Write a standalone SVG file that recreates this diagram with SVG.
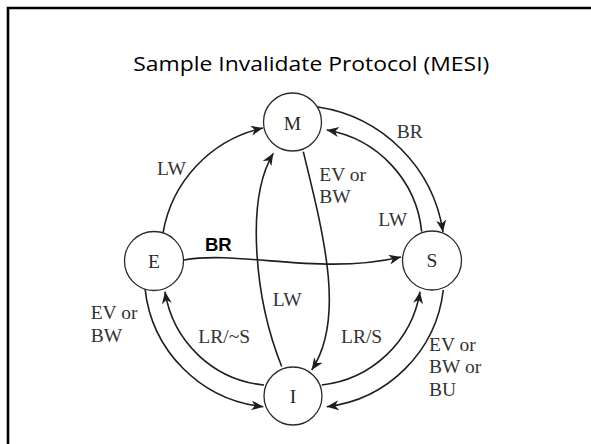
<svg xmlns="http://www.w3.org/2000/svg" width="591" height="444" viewBox="0 0 591 444">
  <style>
    .frame { fill: none; stroke: #000; stroke-width: 2.6; }
    .title { font-family: "Open Sans", "Liberation Sans", sans-serif; font-size: 20.5px; fill: #000; }
    .state circle { fill: #fff; stroke: #2a2a2a; stroke-width: 1.3; }
    .state text { font-family: "Liberation Serif", "Times New Roman", serif; font-size: 19.5px; fill: #2a2a2a; text-anchor: middle; }
    .edge { fill: none; stroke: #1e1e1e; stroke-width: 1.6; marker-end: url(#head); }
    .lbl { font-family: "Liberation Serif", "Times New Roman", serif; font-size: 19.5px; fill: #333; }
    .bold { font-family: "Liberation Sans", Arial, sans-serif; font-size: 18.5px; font-weight: bold; fill: #000; }
  </style>
  <defs>
    <marker id="head" markerUnits="userSpaceOnUse" markerWidth="14" markerHeight="12" refX="12" refY="5" orient="auto">
      <path d="M0,0 L12,5 L0,10 L3.5,5 z" fill="#1e1e1e"/>
    </marker>
  </defs>

  <!-- slide frame -->
  <path class="frame" d="M8,444 V8 H591"/>

  <text class="title" x="133.3" y="70.7" textLength="356" lengthAdjust="spacingAndGlyphs">Sample Invalidate Protocol (MESI)</text>

  <!-- transitions -->
  <g id="connectors">
    <path class="edge" d="M163,233 A130,130 0 0 1 263,128"/>
    <path class="edge" d="M318,107 A149,149 0 0 1 443,232"/>
    <path class="edge" d="M421.7,231.7 A115,115 0 0 0 326.7,130"/>
    <path class="edge" d="M145,288.3 A133,133 0 0 0 263.3,406.7"/>
    <path class="edge" d="M264,385 A111,111 0 0 1 165,291.7"/>
    <path class="edge" d="M321.7,385 A112,112 0 0 0 420,291.7"/>
    <path class="edge" d="M443.3,290 A133,133 0 0 1 326.7,406.7"/>
    <path class="edge" d="M184,260 C240,250 320,276 401,257"/>
    <path class="edge" d="M281.7,366.5 C255,300 245,200 273.3,153.3"/>
    <path class="edge" d="M303.3,151.7 C325,240 345,320 311.7,370"/>
  </g>

  <!-- states -->
  <g id="node-M" class="state">
    <circle cx="292.5" cy="122" r="29"/>
    <text x="292.5" y="129.5">M</text>
  </g>
  <g id="node-E" class="state">
    <circle cx="154" cy="261" r="29.5"/>
    <text x="154" y="267.7">E</text>
  </g>
  <g id="node-S" class="state">
    <circle cx="432" cy="260.5" r="29.5"/>
    <text x="432" y="267.3">S</text>
  </g>
  <g id="node-I" class="state">
    <circle cx="293" cy="396" r="29"/>
    <text x="293" y="403.3">I</text>
  </g>

  <!-- transition labels -->
  <g id="labels">
    <text class="lbl" x="157" y="175">LW</text>
    <text class="lbl" x="396.7" y="138.3">BR</text>
    <text class="lbl" x="319.3" y="180.7">EV or</text>
    <text class="lbl" x="319.3" y="203.3">BW</text>
    <text class="lbl" x="378.3" y="226">LW</text>
    <text class="bold" x="205" y="251">BR</text>
    <text class="lbl" x="272.7" y="306">LW</text>
    <text class="lbl" x="90.7" y="319.3">EV or</text>
    <text class="lbl" x="90.7" y="341.7">BW</text>
    <text class="lbl" x="198.3" y="342.7">LR/~S</text>
    <text class="lbl" x="341" y="343.3">LR/S</text>
    <text class="lbl" x="429" y="350.7">EV or</text>
    <text class="lbl" x="429" y="373.3">BW or</text>
    <text class="lbl" x="429" y="396">BU</text>
  </g>
</svg>
